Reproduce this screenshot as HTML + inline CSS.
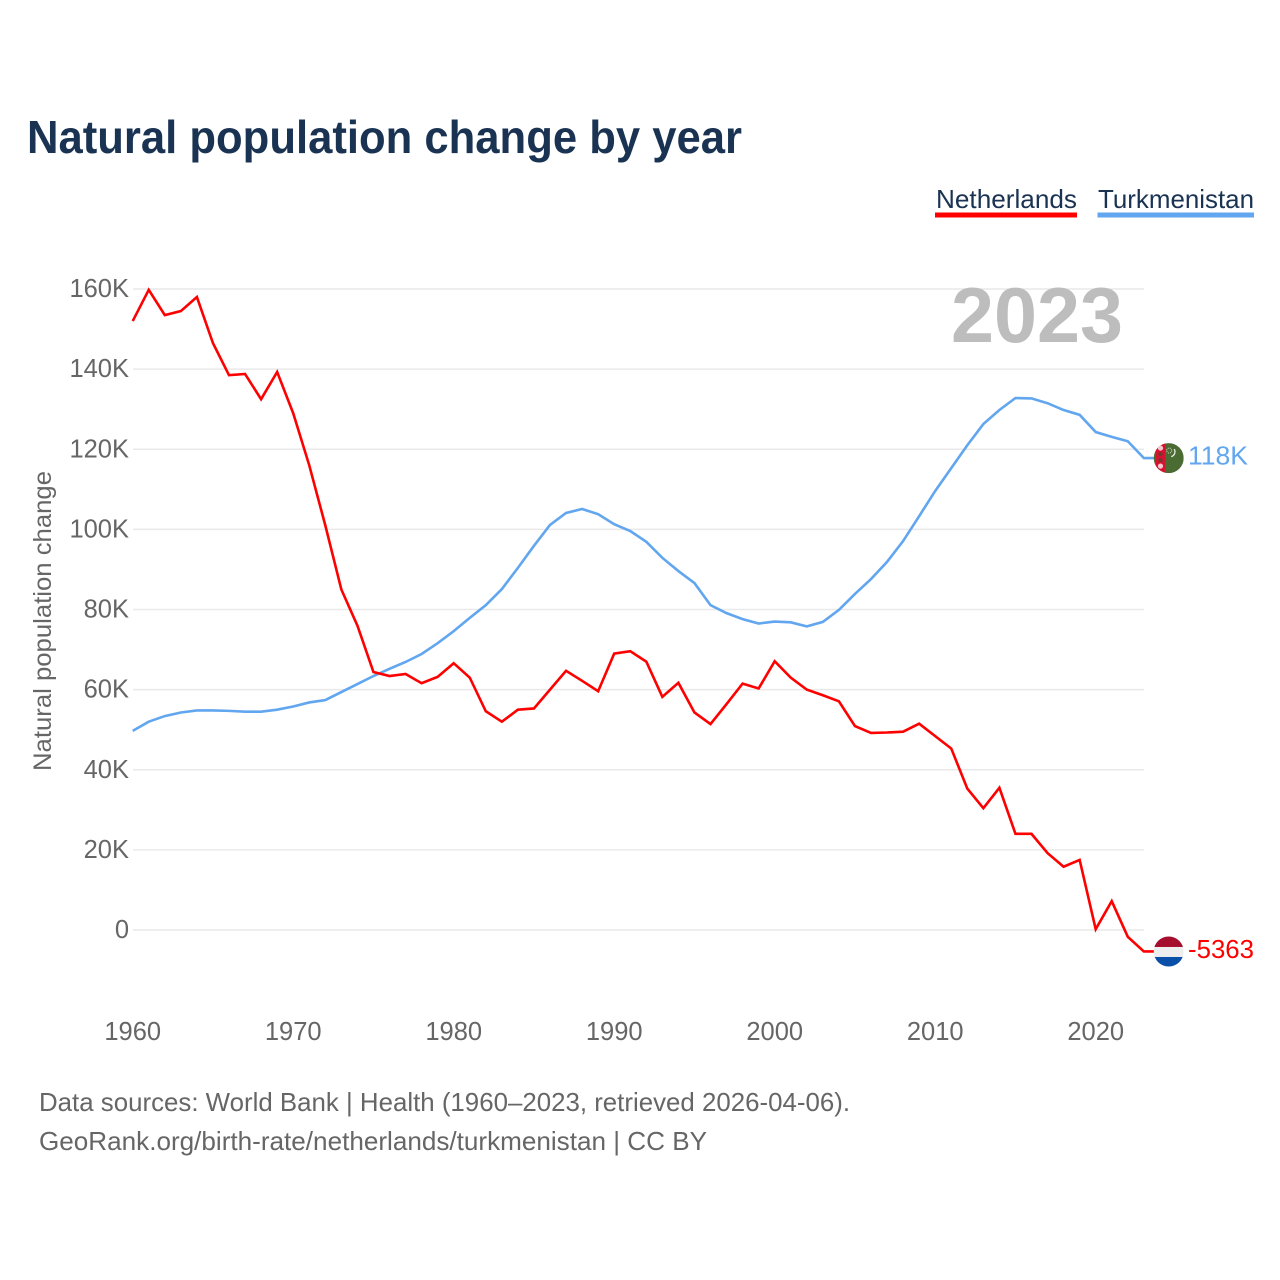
<!DOCTYPE html>
<html lang="en">
<head>
<meta charset="utf-8">
<title>Natural population change by year</title>
<style>
html,body{margin:0;padding:0;background:#fff;width:1280px;height:1280px;overflow:hidden}
svg{display:block;font-family:"Liberation Sans",sans-serif}
</style>
</head>
<body>
<svg id="chart" xmlns="http://www.w3.org/2000/svg" width="1280" height="1280" viewBox="0 0 1280 1280">
  <defs>
    <clipPath id="clip-tm"><circle id="clip-tm-c" r="15"/></clipPath>
    <clipPath id="clip-nl"><circle id="clip-nl-c" r="15"/></clipPath>
  </defs>
  <text x="27" y="153" font-size="46" font-weight="700" fill="#1a3353" textLength="715" lengthAdjust="spacingAndGlyphs">Natural population change by year</text>

  <text x="936" y="208" font-size="26" fill="#1a3353" textLength="141" lengthAdjust="spacingAndGlyphs">Netherlands</text>
  <rect x="935" y="212.5" width="142" height="5" fill="#ff0000"/>
  <text x="1098" y="208" font-size="26" fill="#1a3353" textLength="156" lengthAdjust="spacingAndGlyphs">Turkmenistan</text>
  <rect x="1097.500" y="212.5" width="156.500" height="5" fill="#61a6ef"/>

  <g id="grid"></g>
  <g id="y-ticks"></g>
  <g id="x-ticks"></g>

  <text transform="translate(51,771) rotate(-90)" font-size="25" fill="#666666" textLength="300" lengthAdjust="spacingAndGlyphs">Natural population change</text>
  <text x="951" y="342" font-size="78" font-weight="700" fill="#bdbdbd" textLength="172" lengthAdjust="spacingAndGlyphs">2023</text>

  <g id="series"></g>

  <g id="flag-tm" clip-path="url(#clip-tm)"></g>
  <g id="flag-nl" clip-path="url(#clip-nl)"></g>
  <text id="end-tm" x="1188" font-size="26" fill="#61a6ef" textLength="60" lengthAdjust="spacingAndGlyphs"></text>
  <text id="end-nl" x="1188" font-size="26" fill="#ff0000" textLength="66" lengthAdjust="spacingAndGlyphs"></text>

  <text x="39" y="1111" font-size="26" fill="#666666" textLength="811" lengthAdjust="spacingAndGlyphs">Data sources: World Bank | Health (1960–2023, retrieved 2026-04-06).</text>
  <text x="39" y="1150" font-size="26" fill="#666666" textLength="668" lengthAdjust="spacingAndGlyphs">GeoRank.org/birth-rate/netherlands/turkmenistan | CC BY</text>
</svg>
<script>
const startYear = 1960;
const netherlands = [152,159.8,153.5,154.5,158,146.5,138.5,138.8,132.5,139.3,129,116,101,85,76,64.4,63.4,63.9,61.6,63.2,66.6,63,54.6,52,55,55.3,60,64.7,62.2,59.6,69,69.6,67,58.2,61.7,54.3,51.4,56.4,61.5,60.3,67.1,63,60,58.6,57.1,50.9,49.2,49.3,49.5,51.5,48.4,45.3,35.3,30.4,35.5,24,24,19.2,15.8,17.5,0.2,7.2,-1.7,-5.363];
const turkmenistan = [49.7,52,53.4,54.3,54.8,54.8,54.7,54.5,54.5,55,55.8,56.8,57.4,59.4,61.4,63.4,65.2,66.9,68.9,71.6,74.6,77.9,81.1,85.1,90.4,95.9,101.1,104.1,105.1,103.8,101.3,99.6,96.9,92.9,89.6,86.6,81.1,79.1,77.6,76.5,77,76.8,75.8,76.9,79.9,83.9,87.6,91.9,97.1,103.3,109.6,115.3,121,126.3,129.8,132.8,132.7,131.5,129.8,128.6,124.3,123.1,122,117.8];
const yTickValues = [0,20,40,60,80,100,120,140,160];
const yTickLabels = ["0","20K","40K","60K","80K","100K","120K","140K","160K"];
const xTickYears = [1960,1970,1980,1990,2000,2010,2020];
const endLabelNetherlands = "-5363";
const endLabelTurkmenistan = "118K";

const NS = "http://www.w3.org/2000/svg";
const xScale = year => 132.7 + (year - 1960) * 16.05;
const yScale = k => 930 - k * 4.006;

function make(tag, attrs, parent, text) {
  const el = document.createElementNS(NS, tag);
  for (const k in attrs) el.setAttribute(k, attrs[k]);
  if (text !== undefined) el.textContent = text;
  parent.appendChild(el);
  return el;
}

const grid = document.getElementById('grid');
const yTicks = document.getElementById('y-ticks');
const xTicks = document.getElementById('x-ticks');
const seriesG = document.getElementById('series');

yTickValues.forEach((v, i) => {
  const line = make('line', {x1: 133, x2: 1144, y1: yScale(v), y2: yScale(v), stroke: '#e9e9e9', 'stroke-width': 1.5}, grid);
  
  
  const lab = make('text', {x: 129, y: yScale(v) + 8, 'text-anchor': 'end', 'font-size': 25.5, fill: '#666666'}, yTicks, yTickLabels[i]);
  
  
});

xTickYears.forEach(y => {
  const lab = make('text', {x: xScale(y), y: 1040, 'text-anchor': 'middle', 'font-size': 25.5, fill: '#666666'}, xTicks, String(y));
  
  
});

function pathFor(values) {
  const pts = values.map((v, i) => xScale(startYear + i).toFixed(2) + ',' + yScale(v).toFixed(2));
  const last = values[values.length - 1];
  pts.push('1156,' + yScale(last).toFixed(2));
  return 'M' + pts.join(' L');
}

const lineTm = make('path', {d: pathFor(turkmenistan), fill: 'none', stroke: '#61a6ef', 'stroke-width': 2.6, 'stroke-linejoin': 'miter'}, seriesG);



const lineNl = make('path', {d: pathFor(netherlands), fill: 'none', stroke: '#ff0000', 'stroke-width': 2.6, 'stroke-linejoin': 'miter'}, seriesG);



const tmY = yScale(turkmenistan[turkmenistan.length - 1]);
const nlY = yScale(netherlands[netherlands.length - 1]);
const cx = 1168.7;

document.getElementById('clip-tm-c').setAttribute('cx', cx);
document.getElementById('clip-tm-c').setAttribute('cy', tmY);
document.getElementById('clip-nl-c').setAttribute('cx', cx);
document.getElementById('clip-nl-c').setAttribute('cy', nlY);

const flagNl = document.getElementById('flag-nl');
make('rect', {x: cx - 15, y: nlY - 15, width: 30, height: 10.5, fill: '#a50e2d'}, flagNl);
make('rect', {x: cx - 15, y: nlY - 4.5, width: 30, height: 10, fill: '#eeeeee'}, flagNl);
make('rect', {x: cx - 15, y: nlY + 5.5, width: 30, height: 10, fill: '#0a50a8'}, flagNl);

const flagTm = document.getElementById('flag-tm');
make('rect', {x: cx - 15, y: tmY - 15, width: 30, height: 30, fill: '#4a6b32'}, flagTm);
make('rect', {x: cx - 13, y: tmY - 15, width: 9.5, height: 30, fill: '#d8112f'}, flagTm);
[-10, -4, 2, 8].forEach((d, i) => {
  make('circle', {cx: cx - 8.2, cy: tmY + d, r: i === 0 || i === 3 ? 2.6 : 2, fill: i === 0 || i === 3 ? '#f3c9cf' : '#6b3a30'}, flagTm);
});
make('path', {d: 'M' + (cx + 5.5) + ' ' + (tmY - 9) + ' a5 5 0 0 1 -3 7.500', fill: 'none', stroke: '#e8efe0', 'stroke-width': 1.3}, flagTm);
make('circle', {cx: cx + 0.5, cy: tmY - 7.5, r: 2.5, fill: 'none', stroke: '#cdd8c0', 'stroke-width': 1, 'stroke-dasharray': '1 1'}, flagTm);

const endTm = document.getElementById('end-tm');
endTm.setAttribute('y', tmY + 6.5);
endTm.textContent = endLabelTurkmenistan;
const endNl = document.getElementById('end-nl');
endNl.setAttribute('y', nlY + 6.5);
endNl.textContent = endLabelNetherlands;
</script>
</body>
</html>
